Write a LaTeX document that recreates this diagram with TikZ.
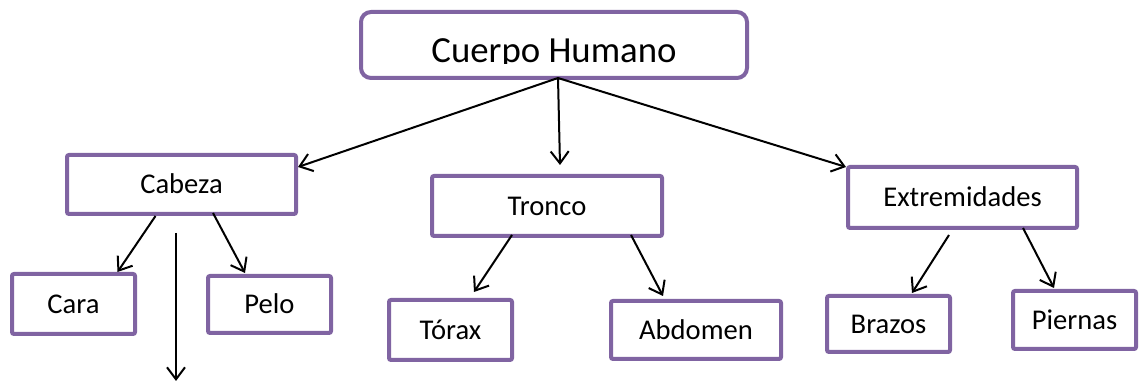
\documentclass[tikz,border=0pt]{standalone}
\usepackage{fontspec}
\setmainfont{Carlito}
\usetikzlibrary{arrows.meta}
\definecolor{morado}{HTML}{8064A2}
\begin{document}
\begin{tikzpicture}[
      x=0.5pt, y=-0.5pt,
      caja/.style={
        draw=morado,
        line width=2pt,
        rounded corners=1pt,
        fill=white,
        inner sep=0pt,
        text height=9.2pt,
        text depth=0pt,
        font=\fontsize{14.3}{17}\selectfont
      },
      flecha/.style={
        line width=1pt,
        -{Straight Barb[length=6pt,width=9pt]}
      }
    ]
    \useasboundingbox (0,0) rectangle (1140,383);
    \node[draw=morado, line width=2pt, rounded corners=5pt,
      minimum width=193pt, minimum height=33pt] (cuerpo) at (554,45) {};
    \begin{scope}
      \clip (359,10) rectangle (749,64);
      \node[anchor=base, inner sep=0pt, font=\fontsize{18.4}{22}\selectfont]
        (cuerpotxt) at (554,63) {Cuerpo Humano};
    \end{scope}

    \node[caja, minimum width=114.5pt, minimum height=29.5pt] (cabeza) at (181.5,184.5) {Cabeza};
    \node[caja, minimum width=115pt, minimum height=30pt] (tronco) at (547,206) {Tronco};
    \node[caja, minimum width=114.5pt, minimum height=30.5pt] (extrem) at (962.5,197.5) {Extremidades};

    \node[caja, minimum width=61.5pt, minimum height=30pt] (cara) at (73.5,304) {Cara};
    \node[caja, minimum width=61.5pt, minimum height=28.5pt] (pelo) at (269.5,304.5) {Pelo};
    \node[caja, minimum width=61.5pt, minimum height=30pt] (torax) at (450.5,330) {Tórax};
    \node[caja, minimum width=85pt, minimum height=29pt] (abdomen) at (696,330) {Abdomen};
    \node[caja, minimum width=61.5pt, minimum height=28pt] (brazos) at (888.5,324) {Brazos};
    \node[caja, minimum width=61.5pt, minimum height=29pt] (piernas) at (1074.5,320) {Piernas};

    \coordinate (libre1) at (176,233);
    \coordinate (libre2) at (176,381);

    % del cuerpo a las tres partes
    \draw[flecha] ([xshift=2pt,yshift=1pt]cuerpo.south) -- ([yshift=8.75pt]cabeza.east);
    \draw[flecha] ([xshift=2pt,yshift=1pt]cuerpo.south) -- ([xshift=6.5pt,yshift=4.5pt]tronco.north);
    \draw[flecha] ([xshift=2pt,yshift=1pt]cuerpo.south) -- ([yshift=-1pt]extrem.north west);

    % segundo nivel
    \draw[flecha] ([xshift=-13pt]cabeza.south) -- ([xshift=22pt]cara.north);
    \draw[flecha] ([xshift=15.75pt,yshift=1.5pt]cabeza.south) -- ([xshift=-12.25pt,yshift=0.5pt]pelo.north);
    \draw[flecha] (libre1) -- (libre2);
    \draw[flecha] ([xshift=-17.5pt,yshift=1.5pt]tronco.south) -- ([xshift=11.75pt,yshift=3pt]torax.north);
    \draw[flecha] ([xshift=42pt,yshift=1.5pt]tronco.south) -- ([xshift=-16.5pt,yshift=1.5pt]abdomen.north);
    \draw[flecha] ([xshift=-6.75pt,yshift=-2.5pt]extrem.south) -- ([xshift=11.75pt,yshift=0.5pt]brazos.north);
    \draw[flecha] ([xshift=30.25pt,yshift=1pt]extrem.south) -- ([xshift=-10.25pt,yshift=0.5pt]piernas.north);
  \end{tikzpicture}
\end{document}
